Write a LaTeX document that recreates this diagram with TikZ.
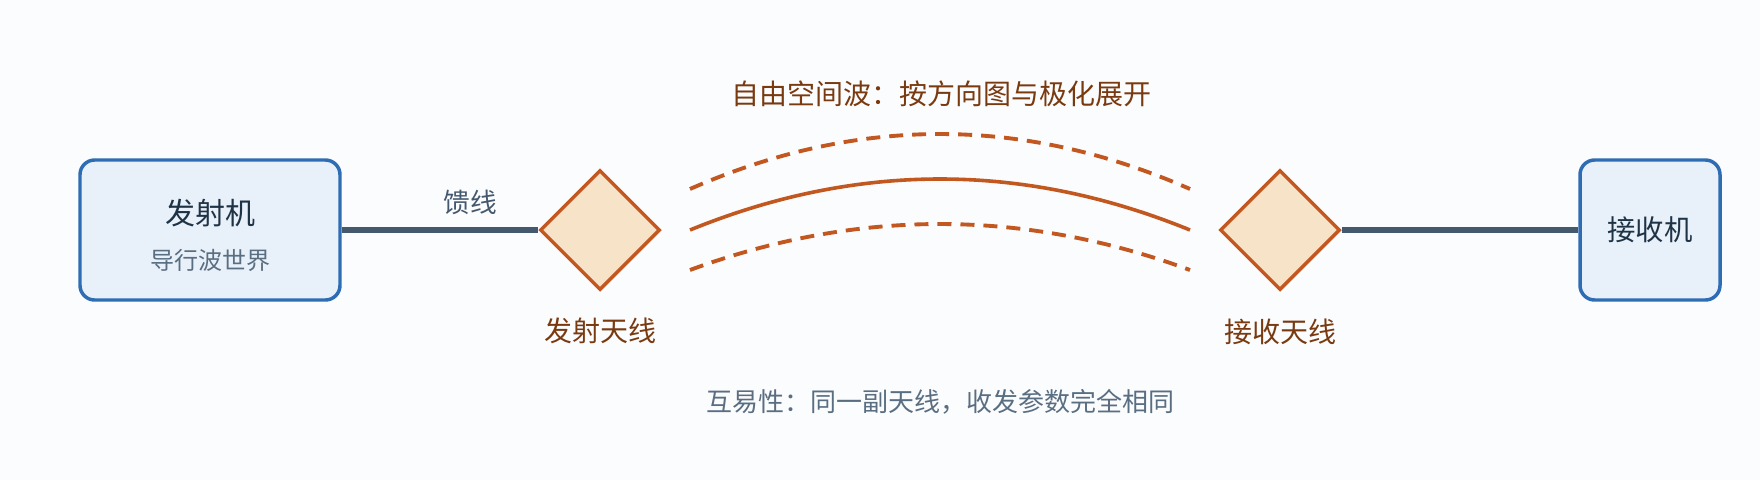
\documentclass[tikz,border=0pt]{standalone}
\usepackage{fontspec}
\setmainfont{Noto Sans CJK SC}
\usetikzlibrary{shapes.geometric}
\definecolor{bgc}{HTML}{FBFCFE}
\definecolor{boxfill}{HTML}{E8F0F9}
\definecolor{boxline}{HTML}{2E6DB4}
\definecolor{darktext}{HTML}{1F3347}
\definecolor{graytext}{HTML}{5A6E82}
\definecolor{feedc}{HTML}{44586E}
\definecolor{antfill}{HTML}{F7E3C8}
\definecolor{orangec}{HTML}{C2571F}
\definecolor{browntext}{HTML}{7A3A10}
\begin{document}
\begin{tikzpicture}[x=0.75pt,y=-0.75pt,
  sysbox/.style={draw=boxline,fill=boxfill,line width=2.6pt,rounded corners=11pt,minimum height=105pt,inner sep=0pt,align=center,text=darktext},
  antenna/.style={diamond,draw=orangec,fill=antfill,line width=2.6pt,minimum width=90pt,minimum height=90pt,inner sep=0pt,aspect=1},
  feed/.style={draw=feedc,line width=3.8pt},
  wave/.style={draw=orangec,line width=2.7pt},
  wavedash/.style={draw=orangec,line width=2.9pt,dash pattern=on 10.5pt off 6.75pt},
  lbl/.style={inner sep=0pt,font=\fontsize{21}{24}\selectfont,text=browntext},
  note/.style={inner sep=0pt,font=\fontsize{19.5}{22}\selectfont,text=graytext}
]
\fill[bgc] (0,0) rectangle (1760,480);
\useasboundingbox (0,0) rectangle (1760,480);

\node[sysbox,minimum width=195pt] (tx) at (210,230) {};
\node[inner sep=0pt,text=darktext,font=\fontsize{22.5}{26}\selectfont] (txt) at (210,213) {发射机};
\node[inner sep=0pt,text=graytext,font=\fontsize{18}{21}\selectfont] (txs) at (210,260) {导行波世界};

\node[sysbox,minimum width=105pt,font=\fontsize{21.3}{24}\selectfont] (rx) at (1650,230) {接收机};

\node[antenna] (ta) at (600,230) {};
\node[antenna] (ra) at (1280,230) {};

\draw[feed] (tx.east) -- (ta.west);
\draw[feed] (ra.east) -- (rx.west);

\node[inner sep=0pt,text=feedc,font=\fontsize{20}{22}\selectfont] (feedlbl) at (470,202) {馈线};

\node[lbl] (talbl) at (600,331) {发射天线};
\node[lbl] (ralbl) at (1280,332) {接收天线};

\node[lbl] (title) at (941,94) {自由空间波：按方向图与极化展开};
\node[note] (recip) at (940,402) {互易性：同一副天线，收发参数完全相同};

\coordinate (us) at (690,189); \coordinate (ue) at (1190,189);
\coordinate (ms) at (690,230); \coordinate (me) at (1190,230);
\coordinate (ls) at (690,270); \coordinate (le) at (1190,270);

\draw[wavedash] (us) .. controls (856.7,115.7) and (1023.3,115.7) .. (ue);
\draw[wave] (ms) .. controls (856.7,162) and (1023.3,162) .. (me);
\draw[wavedash] (ls) .. controls (856.7,208.7) and (1023.3,208.7) .. (le);
\end{tikzpicture}
\end{document}
